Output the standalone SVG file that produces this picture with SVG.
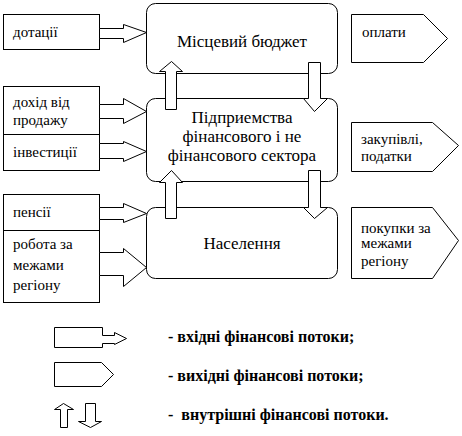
<svg xmlns="http://www.w3.org/2000/svg" width="462" height="436" viewBox="0 0 462 436">
<rect width="462" height="436" fill="#fff"/>
<g fill="#fff" stroke="#000" stroke-width="1">
<g id="budget"><rect x="146.5" y="3.5" width="191" height="70" rx="9"/></g>
<g id="enterprises"><rect x="146.5" y="98.5" width="191" height="83" rx="9"/></g>
<g id="population"><rect x="146.5" y="207.5" width="191" height="71" rx="9"/></g>
<g id="in1"><rect x="3.5" y="14.5" width="96" height="35"/></g>
<g id="in2"><rect x="3.5" y="86.5" width="96" height="84"/><line x1="3.5" y1="134.5" x2="99.5" y2="134.5"/></g>
<g id="in3"><rect x="3.5" y="194.5" width="96" height="108"/><line x1="3.5" y1="230.5" x2="99.5" y2="230.5"/></g>
<g id="out1"><polygon points="351.5,14.5 423.5,14.5 447.5,38.5 423.5,62.5 351.5,62.5"/></g>
<g id="out2"><polygon points="351.5,122.5 432.5,122.5 458.5,145.5 432.5,171.5 351.5,171.5"/></g>
<g id="out3"><polygon points="351.5,207.5 432.5,207.5 458.5,240.5 432.5,278.5 351.5,278.5"/></g>
<g id="connectors">
<polygon points="99.5,28.5 123.5,28.5 123.5,24.5 146.5,32.5 123.5,42.5 123.5,38.5 99.5,38.5"/>
<polygon points="99.5,104.5 123.5,104.5 123.5,98.5 146.5,111.5 123.5,123.5 123.5,118.5 99.5,118.5"/>
<polygon points="99.5,143.5 123.5,143.5 123.5,141.5 146.5,151.5 123.5,161.5 123.5,158.5 99.5,158.5"/>
<polygon points="99.5,207.5 123.5,207.5 123.5,203.5 146.5,213.5 123.5,222.5 123.5,219.5 99.5,219.5"/>
<polygon points="99.5,252.5 123.5,252.5 123.5,248.5 146.5,267.5 123.5,286.5 123.5,275.5 99.5,275.5"/>
<polygon points="165.5,109.5 165.5,71.5 159.5,71.5 171.5,61.5 182.5,71.5 176.5,71.5 176.5,109.5"/>
<polygon points="308.5,62.5 320.5,62.5 320.5,98.5 327.5,98.5 314.5,111.5 303.5,98.5 308.5,98.5"/>
<polygon points="165.5,218.5 165.5,182.5 159.5,182.5 171.5,170.5 182.5,182.5 176.5,182.5 176.5,218.5"/>
<polygon points="308.5,170.5 320.5,170.5 320.5,207.5 327.5,207.5 314.5,218.5 303.5,207.5 308.5,207.5"/>
</g>
<g id="legend-shapes">
<polygon points="54.5,327.5 102.5,327.5 102.5,335.5 114.5,335.5 114.5,332.5 126.5,338.5 114.5,344.5 114.5,343.5 102.5,343.5 102.5,347.5 54.5,347.5"/>
<polygon points="54.5,362.5 101.5,362.5 113.5,374.5 101.5,386.5 54.5,386.5"/>
<polygon points="60.5,427.5 60.5,409.5 54.5,409.5 63.5,403.5 73.5,409.5 67.5,409.5 67.5,427.5"/>
<polygon points="85.5,403.5 95.5,403.5 95.5,421.5 101.5,421.5 90.5,427.5 78.5,421.5 85.5,421.5"/>
</g>
</g>
<g id="labels" fill="#000">
<text style="font-family:'Liberation Serif',serif;font-size:17px" text-anchor="middle" x="242" y="47">Місцевий бюджет</text>
<text style="font-family:'Liberation Serif',serif;font-size:17px" text-anchor="middle" x="242" y="123">Підприемства</text>
<text style="font-family:'Liberation Serif',serif;font-size:17px" text-anchor="middle" x="242" y="142">фінансового і не</text>
<text style="font-family:'Liberation Serif',serif;font-size:17px" text-anchor="middle" x="242" y="161">фінансового сектора</text>
<text style="font-family:'Liberation Serif',serif;font-size:17px" text-anchor="middle" x="242" y="249">Населення</text>
<text style="font-family:'Liberation Serif',serif;font-size:15px" x="13" y="37">дотації</text>
<text style="font-family:'Liberation Serif',serif;font-size:15px" x="13" y="107">дохід від</text>
<text style="font-family:'Liberation Serif',serif;font-size:15px" x="13" y="125">продажу</text>
<text style="font-family:'Liberation Serif',serif;font-size:15px" x="13" y="157">інвестиції</text>
<text style="font-family:'Liberation Serif',serif;font-size:15px" x="13" y="217">пенсії</text>
<text style="font-family:'Liberation Serif',serif;font-size:15px" x="13" y="249">робота за</text>
<text style="font-family:'Liberation Serif',serif;font-size:15px" x="13" y="270">межами</text>
<text style="font-family:'Liberation Serif',serif;font-size:15px" x="13" y="290">регіону</text>
<text style="font-family:'Liberation Serif',serif;font-size:15px" x="362" y="37">оплати</text>
<text style="font-family:'Liberation Serif',serif;font-size:15px" x="361" y="144">закупівлі,</text>
<text style="font-family:'Liberation Serif',serif;font-size:15px" x="361" y="161">податки</text>
<text style="font-family:'Liberation Serif',serif;font-size:15px" x="361" y="233">покупки за</text>
<text style="font-family:'Liberation Serif',serif;font-size:15px" x="361" y="248">межами</text>
<text style="font-family:'Liberation Serif',serif;font-size:15px" x="361" y="266">регіону</text>
<text style="font-family:'Liberation Serif',serif;font-size:16px;font-weight:bold" x="168" y="342">- вхідні фінансові потоки;</text>
<text style="font-family:'Liberation Serif',serif;font-size:16px;font-weight:bold" x="168" y="381">- вихідні фінансові потоки;</text>
<text style="font-family:'Liberation Serif',serif;font-size:16px;font-weight:bold;white-space:pre" x="168" y="420">-  внутрішні фінансові потоки.</text>
</g>
</svg>
